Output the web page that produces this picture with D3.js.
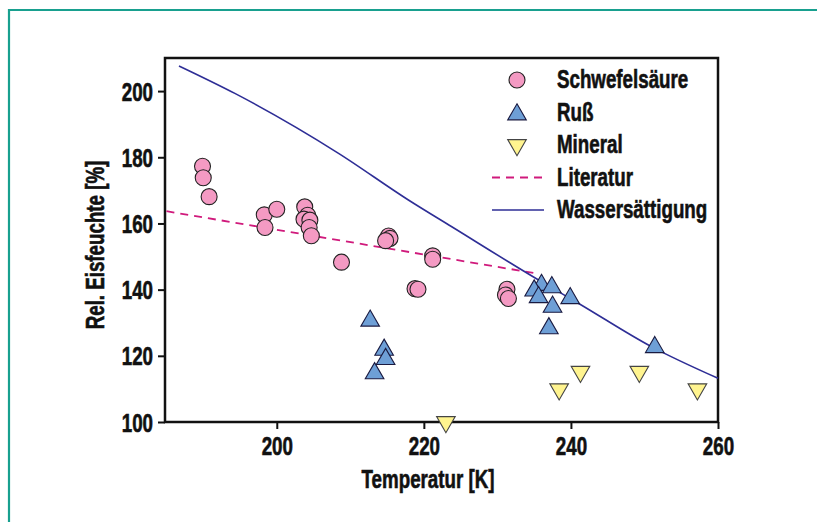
<!DOCTYPE html>
<html>
<head>
<meta charset="utf-8">
<script src="https://cdn.jsdelivr.net/npm/d3@7"></script>
<style>
  body { margin: 0; background: #fff; }
  svg { display: block; }
  text { font-family: "Liberation Sans", Arial, sans-serif; font-weight: bold; stroke: #111; stroke-width: 0.6px; }
</style>
</head>
<body>
<svg id="chart" width="817" height="522"></svg>
<script>
// data
const schwefelT = [189.9, 190.0, 190.8, 198.3, 198.4, 200.0, 203.8, 204.2, 203.7, 204.5, 204.4, 204.7, 208.8, 215.2, 215.4, 214.8, 221.2, 221.2, 218.8, 219.2, 231.3, 231.1, 231.5];
const schwefelRH = [177.3, 173.8, 168.1, 162.6, 158.8, 164.3, 165.0, 162.5, 161.3, 161.0, 158.8, 156.3, 148.3, 156.2, 155.5, 154.8, 150.2, 149.2, 140.3, 140.1, 140.1, 138.4, 137.3];
const russT = [236.0, 237.4, 235.0, 235.6, 239.9, 237.5, 237.0, 212.7, 214.6, 214.8, 213.3, 251.4];
const russRH = [141.4, 140.7, 139.7, 137.7, 137.4, 134.8, 128.3, 130.6, 121.8, 119.0, 114.7, 122.6];
const mineralT = [223.0, 238.4, 241.3, 249.3, 257.2];
const mineralRH = [100.0, 109.9, 115.2, 115.2, 109.9];
const literaturT = [185, 235.3];
const literaturRH = [163.7, 144.9];
const wasserT = [186.7, 194.3, 208.4, 217.9, 223.8, 235.6, 241.0, 251.0, 260.0];
const wasserRH = [207.6, 199.3, 181.2, 167.1, 159.0, 142.9, 135.9, 122.7, 113.2];
const xTicks = [200, 220, 240, 260];
const yTicks = [100, 120, 140, 160, 180, 200];
const legendLabels = ["Schwefelsäure", "Ruß", "Mineral", "Literatur", "Wassersättigung"];

const svg = d3.select("#chart");
const W = 817, H = 522;
const m = {left: 165, right: 718, top: 58, bottom: 422};
const fs = 25, sx = 0.75; // horizontal squeeze to get a condensed look

const x = d3.scaleLinear().domain([184.8, 260]).range([m.left, m.right]);
const y = d3.scaleLinear().domain([100, 210]).range([m.bottom, m.top]);

// teal page frame (top + left only)
svg.append("path")
  .attr("d", `M9,${H} V10 H${W}`)
  .attr("fill", "none").attr("stroke", "#18a08f").attr("stroke-width", 2.2);

function label(px, py, str, anchor, rot) {
  return svg.append("text")
    .attr("transform", `translate(${px},${py})${rot ? " rotate(" + rot + ")" : ""} scale(${sx},1)`)
    .attr("text-anchor", anchor || "start")
    .attr("font-size", fs)
    .attr("fill", "#111")
    .text(str);
}

// axes
const gx = svg.append("g").attr("transform", `translate(0,${m.bottom})`)
  .call(d3.axisBottom(x).tickValues(xTicks).tickSize(7).tickPadding(8));
const gy = svg.append("g").attr("transform", `translate(${m.left},0)`)
  .call(d3.axisLeft(y).tickValues(yTicks).tickSize(7).tickPadding(4));
[gx, gy].forEach(g => {
  g.select(".domain").remove();
  g.selectAll(".tick line").attr("stroke", "#111").attr("stroke-width", 2);
  g.selectAll(".tick text")
    .attr("font-size", fs).attr("fill", "#111")
    .attr("font-family", null)
    .attr("transform", `scale(${sx},1)`);
});
gy.selectAll(".tick text").attr("dy", "0.36em").attr("x", -12 / sx);

// plot frame
svg.append("rect")
  .attr("x", m.left).attr("y", m.top)
  .attr("width", m.right - m.left).attr("height", m.bottom - m.top)
  .attr("fill", "none").attr("stroke", "#111").attr("stroke-width", 2.5);

label(428, 488, "Temperatur [K]", "middle");
label(104, 245, "Rel. Eisfeuchte [%]", "middle", -90);

// lines
const line = d3.line().x(d => x(d[0])).y(d => y(d[1]));
const wasser = wasserT.map((t, i) => [t, wasserRH[i]]);
const literatur = literaturT.map((t, i) => [t, literaturRH[i]]);

svg.append("path").datum(literatur)
  .attr("d", line).attr("fill", "none")
  .attr("stroke", "#d01a7c").attr("stroke-width", 1.8)
  .attr("stroke-dasharray", "8,6");
svg.append("path").datum(wasser)
  .attr("d", line.curve(d3.curveMonotoneX)).attr("fill", "none")
  .attr("stroke", "#2e2e96").attr("stroke-width", 1.6);

// markers
const circleFill = "#f49ac3", upFill = "#6e9fd6", downFill = "#fff48f";
const tri = d3.symbol(d3.symbolTriangle, 150);

svg.append("g").selectAll("circle")
  .data(schwefelT.map((t, i) => [t, schwefelRH[i]]))
  .join("circle")
  .attr("cx", d => x(d[0])).attr("cy", d => y(d[1])).attr("r", 8)
  .attr("fill", circleFill).attr("stroke", "#222").attr("stroke-width", 1.1);

svg.append("g").selectAll("path")
  .data(russT.map((t, i) => [t, russRH[i]]))
  .join("path")
  .attr("d", tri)
  .attr("transform", d => `translate(${x(d[0])},${y(d[1])})`)
  .attr("fill", upFill).attr("stroke", "#1a1a40").attr("stroke-width", 1.1);

svg.append("g").selectAll("path")
  .data(mineralT.map((t, i) => [t, mineralRH[i]]))
  .join("path")
  .attr("d", tri)
  .attr("transform", d => `translate(${x(d[0])},${y(d[1])}) rotate(180)`)
  .attr("fill", downFill).attr("stroke", "#444").attr("stroke-width", 1.1);

// legend
const lx = 517, ly0 = 80, dy = 32.5, tx = 557;
legendLabels.forEach((s, i) => {
  label(tx, ly0 + i * dy + 8, s, "start");
});
svg.append("circle").attr("cx", lx).attr("cy", ly0).attr("r", 8)
  .attr("fill", circleFill).attr("stroke", "#222").attr("stroke-width", 1.1);
svg.append("path").attr("d", tri).attr("transform", `translate(${lx},${ly0 + dy + 2})`)
  .attr("fill", upFill).attr("stroke", "#1a1a40").attr("stroke-width", 1.1);
svg.append("path").attr("d", tri).attr("transform", `translate(${lx},${ly0 + 2 * dy}) rotate(180)`)
  .attr("fill", downFill).attr("stroke", "#444").attr("stroke-width", 1.1);
svg.append("line").attr("x1", 492).attr("x2", 544)
  .attr("y1", ly0 + 3 * dy).attr("y2", ly0 + 3 * dy)
  .attr("stroke", "#d01a7c").attr("stroke-width", 1.8).attr("stroke-dasharray", "8,6");
svg.append("line").attr("x1", 492).attr("x2", 544)
  .attr("y1", ly0 + 4 * dy).attr("y2", ly0 + 4 * dy)
  .attr("stroke", "#2e2e96").attr("stroke-width", 1.6);
</script>
</body>
</html>
